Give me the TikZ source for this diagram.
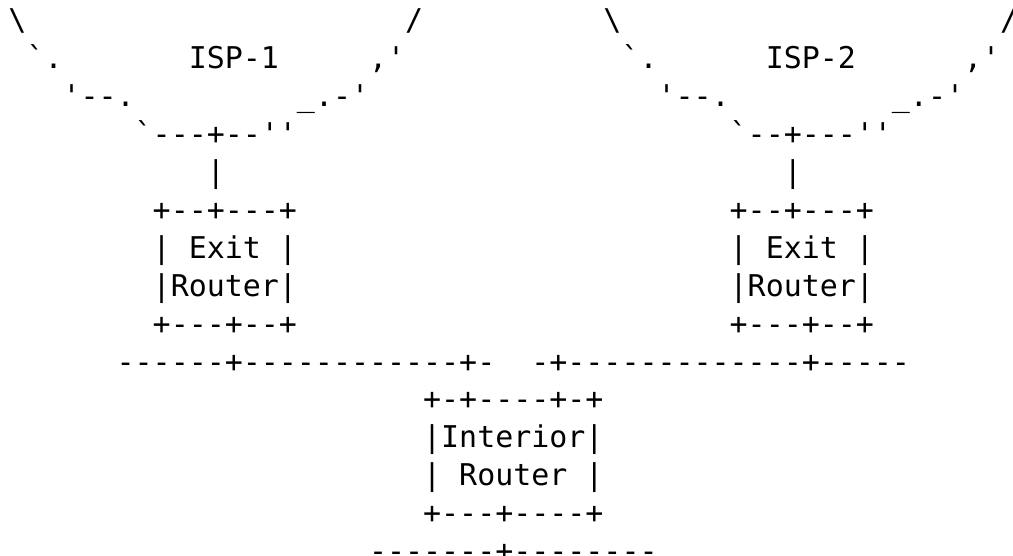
\documentclass[tikz,border=0pt]{standalone}
\usepackage{fontspec}
\setmonofont{DejaVu Sans Mono}
\tikzset{
  asc/.style={anchor=base west, inner sep=0pt, outer sep=0pt,
    font=\ttfamily\fontsize{29.95pt}{37.9pt}\selectfont, text=black}
}
\begin{document}
\begin{tikzpicture}[x=18.03pt, y=-37.9pt]
\useasboundingbox (0pt,0pt) rectangle (1013pt,-556pt);
\clip (0pt,0pt) rectangle (1013pt,-556pt);
\begin{scope}[shift={(8.49pt,-31pt)}]
% ISP clouds
\node[asc] (r0a) at (0,0) {\textbackslash};
\node[asc] (r0b) at (22,0) {/};
\node[asc] (r0c) at (33,0) {\textbackslash};
\node[asc] (r0d) at (55,0) {/};
\node[asc] (r1a) at (1,1) {`.};
\node[asc] (isp1) at (10,1) {ISP-1};
\node[asc] (r1b) at (20,1) {,'};
\node[asc] (r1c) at (34,1) {`.};
\node[asc] (isp2) at (42,1) {ISP-2};
\node[asc] (r1d) at (53,1) {,'};
\node[asc] (r2a) at (3,2) {'--.};
\node[asc] (r2b) at (16,2) {\_.-'};
\node[asc] (r2c) at (36,2) {'--.};
\node[asc] (r2d) at (49,2) {\_.-'};
\node[asc] (r3a) at (7,3) {`---+--''};
\node[asc] (r3b) at (40,3) {`--+---''};
\node[asc] (r4a) at (11,4) {|};
\node[asc] (r4b) at (43,4) {|};
% exit routers
\node[asc] (e1t) at (8,5) {+--+---+};
\node[asc] (e2t) at (40,5) {+--+---+};
\node[asc] (e1l) at (8,6) {|};
\node[asc] (e1x) at (10,6) {Exit};
\node[asc] (e1r) at (15,6) {|};
\node[asc] (e2l) at (40,6) {|};
\node[asc] (e2x) at (42,6) {Exit};
\node[asc] (e2r) at (47,6) {|};
\node[asc] (e1m) at (8,7) {|Router|};
\node[asc] (e2m) at (40,7) {|Router|};
\node[asc] (e1b) at (8,8) {+---+--+};
\node[asc] (e2b) at (40,8) {+---+--+};
% LAN
\node[asc] (lan1) at (6,9) {------+------------+-};
\node[asc] (lan2) at (29,9) {-+-------------+-----};
% interior router
\node[asc] (it) at (23,10) {+-+----+-+};
\node[asc] (im) at (23,11) {|Interior|};
\node[asc] (il) at (23,12) {|};
\node[asc] (ix) at (25,12) {Router};
\node[asc] (ir) at (32,12) {|};
\node[asc] (ib) at (23,13) {+---+----+};
\node[asc] (lan3) at (20,14) {-------+--------};
\end{scope}
\end{tikzpicture}
\end{document}
